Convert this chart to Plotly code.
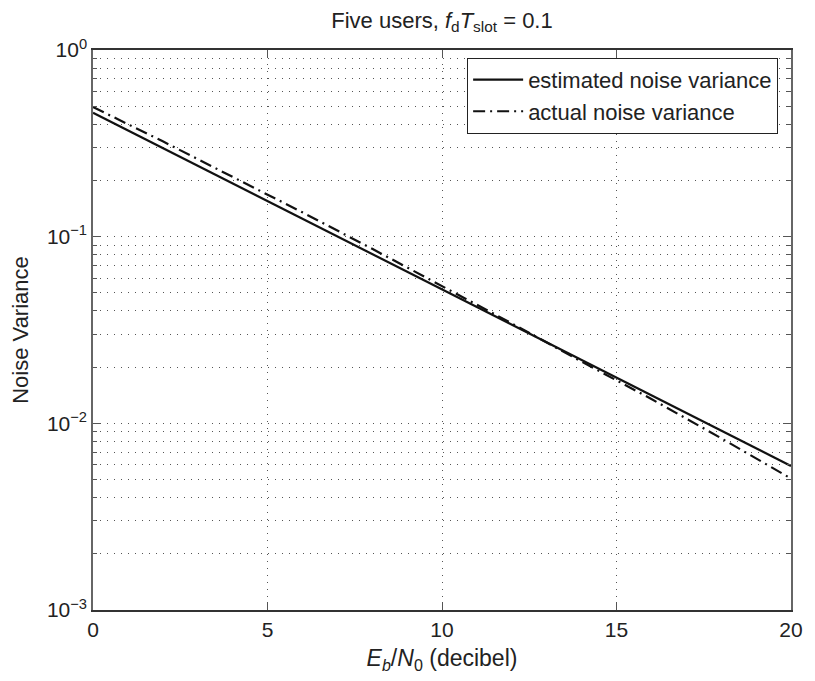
import plotly.graph_objects as go

# Data
ebn0_db = [0, 2, 4, 6, 8, 10, 12, 14, 16, 18, 20]
estimated_var = [0.461, 0.298, 0.193, 0.125, 0.0807, 0.0522, 0.0338, 0.0219, 0.0141, 0.00914, 0.00591]
actual_var = [0.495, 0.324, 0.209, 0.135, 0.0861, 0.0543, 0.0343, 0.0214, 0.0135, 0.00832, 0.00506]

x_ticks = [0, 5, 10, 15, 20]
y_tickvals = [1e-3, 1e-2, 1e-1, 1]
y_ticktext = ["10<sup>−3</sup>", "10<sup>−2</sup>", "10<sup>−1</sup>", "10<sup>0</sup>"]

FONT = "Liberation Sans, Arial, Helvetica, sans-serif"
GRID = "#555555"
GRIDDASH = "1px,6px"

fig = go.Figure()
fig.add_trace(go.Scatter(
    x=ebn0_db, y=estimated_var, mode="lines", name="estimated noise variance",
    line=dict(color="#111111", width=2.2, dash="solid"),
))
fig.add_trace(go.Scatter(
    x=ebn0_db, y=actual_var, mode="lines", name="actual noise variance",
    line=dict(color="#111111", width=2.2, dash="12px,5px,2px,5px"),
))

fig.update_layout(
    width=815, height=681,
    margin=dict(l=93, r=13, t=50, b=71),
    paper_bgcolor="white", plot_bgcolor="white",
    font=dict(family=FONT, size=21, color="#222222"),
    title=dict(
        text="Five users, <i>f</i><sub>d</sub><i>T</i><sub>slot</sub> = 0.1",
        x=0.5, xref="paper", xanchor="center",
        y=1 - 20 / 681, yref="container", yanchor="middle",
        font=dict(family=FONT, size=22, color="#222222"),
    ),
    showlegend=True,
    legend=dict(
        x=0.536, y=0.986, xanchor="left", yanchor="top",
        bgcolor="white", bordercolor="#222222", borderwidth=1,
        font=dict(family=FONT, size=22, color="#222222"),
        tracegroupgap=0, itemwidth=50,
    ),
)

fig.update_xaxes(
    range=[0, 20], tickvals=x_ticks,
    showline=True, linecolor="#333333", linewidth=1.5, mirror="ticks",
    ticks="inside", ticklen=8, tickcolor="#555555",
    showgrid=True, gridcolor=GRID, griddash=GRIDDASH, gridwidth=1,
    zeroline=False,
    tickfont=dict(family=FONT, size=21, color="#222222"),
    title=dict(text="<i>E</i><sub><i>b</i></sub>/<i>N</i><sub>0</sub> (decibel)",
               font=dict(family=FONT, size=23, color="#222222"), standoff=10),
)

fig.update_yaxes(
    type="log", range=[-3, 0],
    tickvals=y_tickvals, ticktext=y_ticktext,
    showline=True, linecolor="#666666", linewidth=1.5, mirror="ticks",
    ticks="inside", ticklen=8, tickcolor="#555555",
    showgrid=True, gridcolor=GRID, griddash=GRIDDASH, gridwidth=1,
    minor=dict(dtick="D1", ticks="inside", ticklen=4, tickcolor="#555555",
               showgrid=True, gridcolor=GRID, griddash=GRIDDASH, gridwidth=1),
    zeroline=False,
    tickfont=dict(family=FONT, size=21, color="#222222"),
    title=dict(text="Noise Variance",
               font=dict(family=FONT, size=22, color="#222222"), standoff=12),
)

fig.write_html("out.html")
